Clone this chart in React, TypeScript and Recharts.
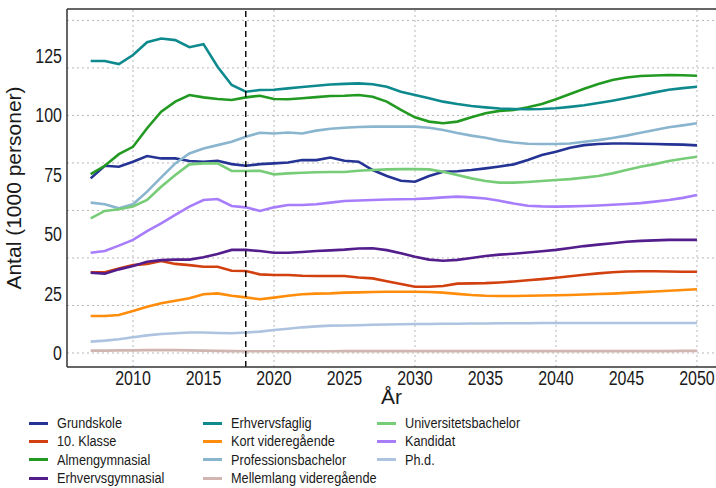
import { LineChart, Line, XAxis, YAxis, ReferenceLine } from "recharts";

const years = [
  2007, 2008, 2009, 2010, 2011, 2012, 2013, 2014, 2015, 2016,
  2017, 2018, 2019, 2020, 2021, 2022, 2023, 2024, 2025, 2026,
  2027, 2028, 2029, 2030, 2031, 2032, 2033, 2034, 2035, 2036,
  2037, 2038, 2039, 2040, 2041, 2042, 2043, 2044, 2045, 2046,
  2047, 2048, 2049, 2050,
];

const grundskole = [
  73.5, 78.8, 78.4, 80.5, 82.9, 81.9, 81.9, 80.8, 80.5, 80.9,
  79.5, 78.8, 79.5, 79.8, 80.2, 81.2, 81.2, 82.3, 80.9, 80.5,
  77.0, 74.5, 72.5, 72.1, 74.5, 76.3, 76.5, 77.0, 77.7, 78.5,
  79.4, 81.2, 83.3, 84.7, 86.4, 87.5, 88.0, 88.2, 88.2, 88.1,
  88.0, 87.8, 87.7, 87.4,
];
const klasse10 = [
  34.0, 34.0, 35.6, 37.0, 37.5, 38.7, 37.5, 37.0, 36.3, 36.3,
  34.6, 34.5, 33.1, 32.8, 32.8, 32.5, 32.4, 32.4, 32.4, 31.8,
  31.4, 30.2, 29.0, 27.9, 27.9, 28.2, 29.2, 29.3, 29.4, 29.7,
  30.1, 30.6, 31.1, 31.7, 32.3, 32.9, 33.5, 34.0, 34.3, 34.4,
  34.4, 34.3, 34.2, 34.2,
];
const almengymnasial = [
  75.3, 78.8, 83.7, 86.8, 94.6, 101.6, 105.8, 108.6, 107.6, 106.9,
  106.5, 107.6, 108.3, 106.9, 106.8, 107.2, 107.7, 108.2, 108.3, 108.6,
  107.9, 105.8, 102.3, 99.2, 97.4, 96.7, 97.4, 99.2, 100.9, 101.9,
  102.3, 103.4, 104.8, 106.8, 109.0, 111.2, 113.2, 114.9, 116.0, 116.6,
  116.8, 117.0, 116.9, 116.7,
];
const erhvervsgymnasial = [
  33.8, 33.4, 35.2, 36.6, 38.4, 39.1, 39.3, 39.3, 40.3, 41.7,
  43.4, 43.4, 42.9, 42.2, 42.2, 42.5, 42.9, 43.2, 43.5, 44.0,
  44.1, 43.3, 42.0, 40.5, 39.3, 38.8, 39.2, 40.0, 40.8, 41.4,
  41.8, 42.3, 42.8, 43.4, 44.2, 45.0, 45.6, 46.2, 46.8, 47.2,
  47.4, 47.6, 47.6, 47.6,
];
const erhvervsfaglig = [
  122.9, 122.9, 121.6, 125.4, 130.8, 132.4, 131.7, 128.7, 130.0, 120.5,
  112.8, 110.0, 110.7, 110.8, 111.4, 112.0, 112.5, 113.0, 113.3, 113.5,
  113.1, 112.1, 110.0, 108.6, 107.2, 105.8, 104.8, 104.0, 103.4, 102.9,
  102.7, 102.6, 102.7, 103.0, 103.6, 104.3, 105.2, 106.2, 107.3, 108.5,
  109.7, 110.8, 111.5, 112.1,
];
const kortVideregaaende = [
  15.6, 15.6, 16.0, 17.7, 19.5, 20.9, 22.0, 23.0, 24.7, 25.1,
  24.1, 23.4, 22.6, 23.3, 24.1, 24.7, 25.0, 25.1, 25.4, 25.5,
  25.7, 25.8, 25.8, 25.8, 25.7, 25.4, 24.9, 24.4, 24.1, 24.0,
  24.0, 24.1, 24.2, 24.3, 24.4, 24.6, 24.8, 25.0, 25.3, 25.6,
  25.9, 26.2, 26.5, 26.8,
];
const professionsbachelor = [
  63.3, 62.6, 60.9, 62.6, 67.9, 73.9, 79.8, 84.0, 86.1, 87.5,
  88.9, 91.0, 92.7, 92.4, 92.8, 92.4, 93.6, 94.4, 94.8, 95.1,
  95.3, 95.3, 95.3, 95.3, 94.8, 93.9, 92.6, 91.5, 90.6, 89.4,
  88.6, 88.1, 88.0, 88.0, 88.2, 88.9, 89.6, 90.5, 91.5, 92.7,
  93.9, 95.0, 95.8, 96.7,
];
const mellemlang = [
  1.0, 1.0, 1.1, 1.1, 1.2, 1.2, 1.2, 1.1, 1.0, 0.9,
  0.8, 0.7, 0.7, 0.7, 0.7, 0.7, 0.7, 0.7, 0.8, 0.8,
  0.8, 0.8, 0.8, 0.8, 0.8, 0.8, 0.8, 0.8, 0.8, 0.8,
  0.8, 0.8, 0.8, 0.8, 0.8, 0.8, 0.8, 0.8, 0.8, 0.8,
  0.8, 0.8, 0.9, 0.9,
];
const universitetsbachelor = [
  56.7, 59.8, 60.5, 61.7, 64.4, 70.0, 74.9, 79.4, 79.8, 79.8,
  76.6, 76.6, 76.7, 75.2, 75.6, 75.9, 76.1, 76.2, 76.2, 76.7,
  77.0, 77.3, 77.4, 77.4, 77.3, 76.3, 74.9, 73.5, 72.4, 71.7,
  71.7, 72.0, 72.4, 72.8, 73.2, 73.8, 74.5, 75.6, 77.0, 78.4,
  79.5, 80.8, 81.8, 82.6,
];
const kandidat = [
  42.2, 42.9, 45.2, 47.6, 51.3, 54.6, 58.1, 61.6, 64.4, 64.8,
  61.9, 61.3, 59.8, 61.3, 62.3, 62.3, 62.6, 63.3, 64.0, 64.2,
  64.4, 64.6, 64.7, 64.8, 65.1, 65.5, 65.8, 65.5, 65.0, 64.1,
  62.9, 62.0, 61.7, 61.6, 61.7, 61.9, 62.1, 62.4, 62.7, 63.1,
  63.7, 64.4, 65.3, 66.5,
];
const phd = [
  4.8, 5.2, 5.8, 6.6, 7.4, 8.0, 8.3, 8.6, 8.6, 8.4,
  8.3, 8.6, 9.0, 9.7, 10.2, 10.8, 11.2, 11.5, 11.6, 11.7,
  11.9, 12.0, 12.1, 12.2, 12.2, 12.3, 12.3, 12.4, 12.4, 12.5,
  12.5, 12.5, 12.6, 12.6, 12.6, 12.6, 12.6, 12.6, 12.6, 12.6,
  12.6, 12.6, 12.6, 12.6,
];

const series = [
  { key: "g", name: "Grundskole", color: "#253494", values: grundskole },
  { key: "k10", name: "10. Klasse", color: "#d2400f", values: klasse10 },
  { key: "ag", name: "Almengymnasial", color: "#229a22", values: almengymnasial },
  { key: "eg", name: "Erhvervsgymnasial", color: "#531d8c", values: erhvervsgymnasial },
  { key: "ef", name: "Erhvervsfaglig", color: "#0e8a8e", values: erhvervsfaglig },
  { key: "kv", name: "Kort videregående", color: "#ff8c0a", values: kortVideregaaende },
  { key: "pb", name: "Professionsbachelor", color: "#8ab5cf", values: professionsbachelor },
  { key: "mv", name: "Mellemlang videregående", color: "#d0b5b0", values: mellemlang },
  { key: "ub", name: "Universitetsbachelor", color: "#77cc77", values: universitetsbachelor },
  { key: "ka", name: "Kandidat", color: "#a77dfc", values: kandidat },
  { key: "ph", name: "Ph.d.", color: "#adc3e0", values: phd },
];

const yTicks = [0, 25, 50, 75, 100, 125];
const xTicks = [2010, 2015, 2020, 2025, 2030, 2035, 2040, 2045, 2050];
const gridY = [0, 20, 40, 60, 80, 100, 120, 140];
const gridX = [2010, 2020, 2030, 2040, 2050];
const forecastStart = 2018;

const yDomain: [number, number] = [-5.9, 144.8];
const xDomain: [number, number] = [2005.32, 2051.35];

const font = "'Liberation Sans', Arial, sans-serif";
// the source image is squeezed horizontally, so horizontal text gets narrowed too
const squeeze = 0.82;
const textColor = "#1a1a1a";

const data = years.map((yr, i) => {
  const row: Record<string, number> = { year: yr };
  series.forEach((s) => {
    row[s.key] = s.values[i];
  });
  return row;
});

function XTick(props: any) {
  const { x, y, payload } = props;
  return (
    <g transform={`translate(${x},${y})`}>
      <text transform={`scale(${squeeze},1)`} textAnchor="middle" dy="0.72em" fill={textColor} fontSize={19.5} fontFamily={font}>
        {payload.value}
      </text>
    </g>
  );
}

function YTick(props: any) {
  const { x, y, payload } = props;
  return (
    <g transform={`translate(${x},${y})`}>
      <text transform={`scale(${squeeze},1)`} textAnchor="end" dy="0.36em" fill={textColor} fontSize={19.5} fontFamily={font}>
        {payload.value}
      </text>
    </g>
  );
}

function ChartLegend() {
  const cols = [series.slice(0, 4), series.slice(4, 8), series.slice(8)];
  const colX = [29, 203, 377];
  return (
    <>
      {cols.map((col, ci) =>
        col.map((s, ri) => (
          <div
            key={s.key}
            style={{
              position: "absolute",
              left: colX[ci],
              top: 414 + ri * 18.4,
              height: 18,
              display: "flex",
              alignItems: "center",
              fontFamily: font,
              fontSize: 15.5,
              color: textColor,
              whiteSpace: "nowrap",
            }}
          >
            <span
              style={{
                display: "inline-block",
                width: 19,
                height: 3,
                background: s.color,
                marginRight: 9,
              }}
            />
            <span style={{ display: "inline-block", transform: `scaleX(${squeeze})`, transformOrigin: "left center" }}>
              {s.name}
            </span>
          </div>
        ))
      )}
    </>
  );
}

export default function App() {
  return (
    <div style={{ position: "absolute", left: 0, top: 0, width: 716, height: 488, background: "#fff" }}>
      <LineChart
        width={716}
        height={488}
        data={data}
        margin={{ top: 9, right: 0, bottom: 81, left: 0 }}
        style={{ fontFamily: font }}
      >
        {gridY.map((v) => (
          <ReferenceLine key={`gy${v}`} y={v} stroke="#b8b8b8" strokeDasharray="2 3" strokeWidth={1} />
        ))}
        {gridX.map((v) => (
          <ReferenceLine key={`gx${v}`} x={v} stroke="#b8b8b8" strokeDasharray="2 3" strokeWidth={1} />
        ))}
        <XAxis
          dataKey="year"
          type="number"
          domain={xDomain}
          ticks={xTicks}
          allowDataOverflow
          height={40}
          tickLine={false}
          tickSize={2}
          axisLine={{ stroke: "#333", strokeWidth: 1.5 }}
          tick={<XTick />}
          label={{ value: "År", position: "bottom", offset: -18, fill: textColor, fontSize: 21 }}
        />
        <YAxis
          type="number"
          domain={yDomain}
          ticks={yTicks}
          allowDataOverflow
          width={67}
          tickLine={false}
          tickSize={3}
          axisLine={{ stroke: "#333", strokeWidth: 1.5 }}
          tick={<YTick />}
          label={{
            value: "Antal (1000 personer)",
            angle: -90,
            position: "insideLeft",
            offset: 14,
            fill: textColor,
            fontSize: 21,
            style: { textAnchor: "middle" },
          }}
        />
        <ReferenceLine y={yDomain[1]} stroke="#333" strokeWidth={1.5} />
        {series.map((s) => (
          <Line
            key={s.key}
            dataKey={s.key}
            name={s.name}
            stroke={s.color}
            strokeWidth={2.6}
            dot={false}
            type="linear"
            isAnimationActive={false}
          />
        ))}
        <ReferenceLine x={forecastStart} stroke="#000" strokeWidth={1.4} strokeDasharray="6 4" />
      </LineChart>
      <ChartLegend />
    </div>
  );
}
